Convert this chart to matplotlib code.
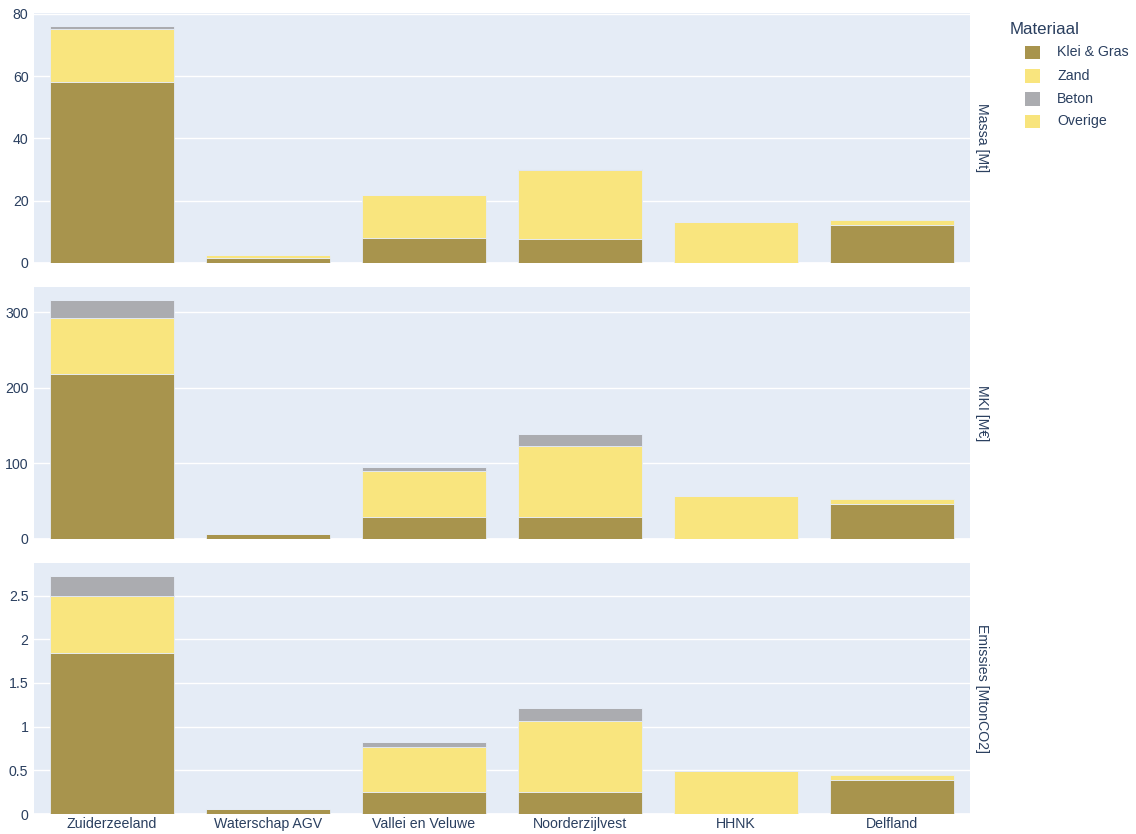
import matplotlib
matplotlib.use("Agg")
import matplotlib.pyplot as plt
import numpy as np
from matplotlib.patches import Rectangle

plt.rcParams['font.family'] = ['Liberation Sans', 'DejaVu Sans']

categories = ["Zuiderzeeland", "Waterschap AGV", "Vallei en Veluwe", "Noorderzijlvest", "HHNK", "Delfland"]
materials = ["Klei & Gras", "Zand", "Beton", "Overige"]
colors = {"Klei & Gras": "#a8944d", "Zand": "#f9e57e", "Beton": "#abacb0", "Overige": "#f8e47c"}

# Massa [Mt]
massa_klei = [58.0, 1.7, 7.9, 7.8, 0.0, 12.2]
massa_zand = [17.2, 1.0, 14.0, 22.1, 13.3, 0.0]
massa_beton = [0.9, 0.0, 0.0, 0.3, 0.0, 0.0]
massa_overige = [0.0, 0.0, 0.0, 0.0, 0.0, 1.7]

# MKI [M€]
mki_klei = [218.3, 6.3, 29.3, 29.3, 0.0, 45.8]
mki_zand = [74.5, 0.0, 59.9, 93.7, 56.8, 0.0]
mki_beton = [23.2, 0.0, 6.2, 16.4, 0.0, 0.0]
mki_overige = [0.0, 0.0, 0.0, 0.0, 0.0, 6.6]

# Emissies [MtonCO2]
em_klei = [1.848, 0.057, 0.249, 0.249, 0.0, 0.39]
em_zand = [0.649, 0.0, 0.522, 0.813, 0.496, 0.0]
em_beton = [0.223, 0.0, 0.057, 0.156, 0.0, 0.0]
em_overige = [0.0, 0.0, 0.0, 0.0, 0.0, 0.057]

panels = [
    ("Massa [Mt]", [massa_klei, massa_zand, massa_beton, massa_overige], [0, 20, 40, 60, 80], ["0", "20", "40", "60", "80"]),
    ("MKI [M€]", [mki_klei, mki_zand, mki_beton, mki_overige], [0, 100, 200, 300], ["0", "100", "200", "300"]),
    ("Emissies [MtonCO2]", [em_klei, em_zand, em_beton, em_overige], [0, 0.5, 1, 1.5, 2, 2.5], ["0", "0.5", "1", "1.5", "2", "2.5"]),
]

W, H = 1136, 834
fig = plt.figure(figsize=(W / 100, H / 100), dpi=100)
txt = "#2a3f5f"
fs = 10.2
left, right = 34, 970
bounds = [(13, 263), (287.3, 538.7), (563.3, 814)]

x = np.arange(len(categories))
for i, (label, series, ticks, ticklabels) in enumerate(panels):
    top, bot = bounds[i]
    ax = fig.add_axes([left / W, (H - bot) / H, (right - left) / W, (bot - top) / H])
    ax.set_facecolor("#e5ecf6")
    bottom = np.zeros(len(categories))
    for m, vals in zip(materials, series):
        v = np.array(vals)
        ax.bar(x, v, width=0.8, bottom=bottom, color=colors[m], edgecolor="#e5ecf6",
               linewidth=0.6, zorder=3, label=m)
        bottom += v
    ax.set_xlim(-0.5, len(categories) - 0.5)
    ax.set_ylim(0, bottom.max() * 1.055)
    ax.set_yticks(ticks)
    ax.set_yticklabels(ticklabels)
    ax.yaxis.grid(True, color="white", linewidth=1, zorder=0)
    ax.axhline(0, color="white", linewidth=2, zorder=1)
    for s in ax.spines.values():
        s.set_visible(False)
    ax.tick_params(axis="both", length=0, labelsize=fs, colors=txt, pad=4)
    if i < 2:
        ax.set_xticks([])
    else:
        ax.set_xticks(x)
        ax.set_xticklabels(categories)
        ax.tick_params(axis="x", pad=2)
    ax.text(1.0 + 5 / (right - left), 0.5, label, rotation=-90, transform=ax.transAxes,
            ha="left", va="center", fontsize=fs, color=txt)

# Legend
fig.text(1010 / W, 1 - 29 / H, "Materiaal", fontsize=12.2, color=txt, ha="left", va="center")
ys = [52.5, 76, 99, 121.5]
for m, yy in zip(materials, ys):
    fig.patches.append(Rectangle((1025 / W, 1 - (yy + 6.5) / H), 15 / W, 13 / H,
                                 transform=fig.transFigure, facecolor=colors[m], edgecolor="none"))
    fig.text(1057 / W, 1 - yy / H, m, fontsize=fs, color=txt, ha="left", va="center")

fig.savefig("out.png", dpi=100, facecolor="white")
